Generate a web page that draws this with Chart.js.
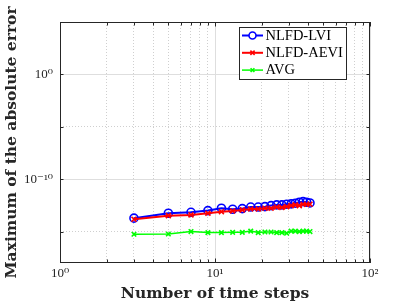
<!DOCTYPE html>
<html>
<head>
<meta charset="utf-8">
<script src="https://cdn.jsdelivr.net/npm/chart.js@4.4.1/dist/chart.umd.min.js"></script>
<style>
  html, body { margin: 0; padding: 0; background: #fff; }
  #wrap { width: 409px; height: 307px; }
</style>
</head>
<body>
<div id="wrap"><canvas id="chart" width="409" height="307"></canvas></div>
<script>
// data
const steps = [3, 5, 7, 9, 11, 13, 15, 17, 19, 21, 23, 25, 27, 29, 31, 33, 35, 37, 39, 41];
const errLVI = [1.9e-14, 5.6e-14, 6.9e-14, 1.0e-13, 1.7e-13, 1.35e-13, 1.55e-13, 2.2e-13, 2.2e-13, 2.4e-13,
  3.0e-13, 3.5e-13, 3.5e-13, 4.1e-13, 4.4e-13, 5.1e-13, 6.3e-13, 7.2e-13, 6.3e-13, 5.4e-13];
const errAEVI = [1.5e-14, 3.3e-14, 3.9e-14, 5.6e-14, 7.9e-14, 9.3e-14, 1.17e-13, 1.45e-13, 1.45e-13, 1.7e-13,
  1.7e-13, 2.2e-13, 2.0e-13, 2.4e-13, 3.0e-13, 3.5e-13, 3.0e-13, 4.1e-13, 4.1e-13, 4.1e-13];
const errAVG = [5.5e-16, 5.9e-16, 1.0e-15, 8.0e-16, 8.0e-16, 8.5e-16, 8.5e-16, 1.1e-15, 8.0e-16, 9.0e-16,
  9.0e-16, 8.0e-16, 8.0e-16, 7.0e-16, 1.1e-15, 1.1e-15, 1.0e-15, 1.1e-15, 1.1e-15, 1.0e-15];

const seriesNames = ['NLFD-LVI', 'NLFD-AEVI', 'AVG'];

// ticks
const xMajor = [1, 10, 100];
const xMinor = [2, 3, 4, 5, 6, 7, 8, 9, 20, 30, 40, 50, 60, 70, 80, 90];
const yMajor = [1e-10, 1e0];
const yMinor = [1e-15, 1e-5];
const xLabels = { 1: '10\u2070', 10: '10\u00b9', 100: '10\u00b2' };
const yLabels = { '1e-10': '10\u207b\u00b9\u2070', '1': '10\u2070' };

const AX = '#262626';
const serif = "'Liberation Serif', 'DejaVu Serif', serif";
const titleFont = { family: "'DejaVu Serif', serif", size: 15.5, weight: 'bold' };

const isMajor = (list, v) => list.some(m => Math.abs(Math.log10(m) - Math.log10(v)) < 1e-6);

// box + inner tick marks like matlab
const boxPlugin = {
  id: 'box',
  afterDatasetsDraw(chart) {
    const { ctx, chartArea: a, scales } = chart;
    ctx.save();
    ctx.strokeStyle = AX;
    ctx.lineWidth = 1;
    const tl = 3.5;
    ctx.beginPath();
    xMajor.concat(xMinor).forEach(v => {
      const px = Math.round(scales.x.getPixelForValue(v)) + 0.5;
      const len = isMajor(xMajor, v) ? tl + 1 : tl;
      ctx.moveTo(px, a.bottom); ctx.lineTo(px, a.bottom - len);
      ctx.moveTo(px, a.top); ctx.lineTo(px, a.top + len);
    });
    yMajor.concat(yMinor).forEach(v => {
      const py = Math.round(scales.y.getPixelForValue(v)) + 0.5;
      ctx.moveTo(a.left, py); ctx.lineTo(a.left + tl, py);
      ctx.moveTo(a.right, py); ctx.lineTo(a.right - tl, py);
    });
    ctx.stroke();
    ctx.strokeRect(Math.round(a.left) + 0.5, Math.round(a.top) + 0.5,
      Math.round(a.right - a.left) - 1, Math.round(a.bottom - a.top) - 1);
    ctx.restore();
  }
};

// legend box in the upper right, matlab style
const legendPlugin = {
  id: 'boxLegend',
  afterDraw(chart) {
    const { ctx } = chart;
    const x0 = 239, y0 = 27, w = 107, h = 52;
    ctx.save();
    ctx.fillStyle = '#fff';
    ctx.fillRect(x0, y0, w, h);
    ctx.strokeStyle = AX;
    ctx.lineWidth = 1;
    ctx.strokeRect(x0 + 0.5, y0 + 0.5, w, h);
    ctx.font = '14.5px ' + serif;
    ctx.textBaseline = 'middle';
    chart.data.datasets.forEach((ds, i) => {
      const yy = y0 + 8.5 + i * 17.3;
      ctx.strokeStyle = ds.borderColor;
      ctx.lineWidth = ds.borderWidth;
      ctx.beginPath();
      ctx.moveTo(x0 + 3, yy); ctx.lineTo(x0 + 24, yy);
      ctx.stroke();
      ctx.lineWidth = ds.pointBorderWidth;
      Chart.helpers.drawPoint(ctx, {
        pointStyle: ds.pointStyle, radius: ds.pointRadius - 0.5, rotation: 0, borderWidth: ds.pointBorderWidth
      }, x0 + 13.5, yy);
      ctx.fillStyle = '#000';
      ctx.fillText(ds.label, x0 + 26.5, yy + 0.5);
    });
    ctx.restore();
  }
};

function makeSet(label, data, color, style, r, lw, order) {
  return {
    label: label,
    data: steps.map((s, i) => ({ x: s, y: data[i] })),
    borderColor: color,
    backgroundColor: color,
    borderWidth: lw,
    pointStyle: style,
    pointRadius: r,
    pointBorderColor: color,
    pointBackgroundColor: 'rgba(0,0,0,0)',
    pointBorderWidth: 1.6,
    pointHoverRadius: r,
    order: order,
    tension: 0
  };
}

new Chart(document.getElementById('chart'), {
  type: 'line',
  data: {
    datasets: [
      makeSet(seriesNames[0], errLVI, '#0000ff', 'circle', 4, 2, 2),
      makeSet(seriesNames[1], errAEVI, '#ff0000', 'crossRot', 3.5, 2, 1),
      makeSet(seriesNames[2], errAVG, '#00ff00', 'crossRot', 3.2, 1.5, 0)
    ]
  },
  options: {
    responsive: false,
    animation: false,
    events: [],
    layout: { padding: { left: 0, top: 22, right: 39, bottom: 0 } },
    plugins: { legend: { display: false }, tooltip: { enabled: false } },
    scales: {
      x: {
        type: 'logarithmic',
        min: 1, max: 100,
        afterBuildTicks: s => { s.ticks = xMajor.concat(xMinor).sort((a, b) => a - b).map(v => ({ value: v })); },
        afterFit: s => { s.height = 44; },
        ticks: {
          autoSkip: false, maxRotation: 0, padding: 3,
          color: AX, font: { family: serif, size: 13 },
          callback: v => xLabels[v] || ''
        },
        grid: {
          drawTicks: false,
          color: c => isMajor(xMajor, c.tick.value) ? '#dedede' : '#cfcfcf',
          lineWidth: 1
        },
        border: { display: false, dash: c => isMajor(xMajor, c.tick.value) ? [] : [1, 2] },
        title: { display: true, text: 'Number of time steps', color: AX, font: titleFont, padding: { top: 2, bottom: 4 } }
      },
      y: {
        type: 'logarithmic',
        min: 1e-18, max: 1e5,
        afterBuildTicks: s => { s.ticks = yMinor.concat(yMajor).sort((a, b) => a - b).map(v => ({ value: v })); },
        afterFit: s => { s.width = 60; },
        ticks: {
          autoSkip: false, padding: 7,
          color: AX, font: { family: serif, size: 13 },
          callback: v => yLabels[String(v)] || ''
        },
        grid: {
          drawTicks: false,
          color: c => isMajor(yMajor, c.tick.value) ? '#dedede' : '#cfcfcf',
          lineWidth: 1
        },
        border: { display: false, dash: c => isMajor(yMajor, c.tick.value) ? [] : [1, 2] },
        title: { display: true, text: 'Maximum of the absolute error', color: AX, font: titleFont, padding: { top: 3, bottom: 0 } }
      }
    }
  },
  plugins: [boxPlugin, legendPlugin]
});
</script>
</body>
</html>
